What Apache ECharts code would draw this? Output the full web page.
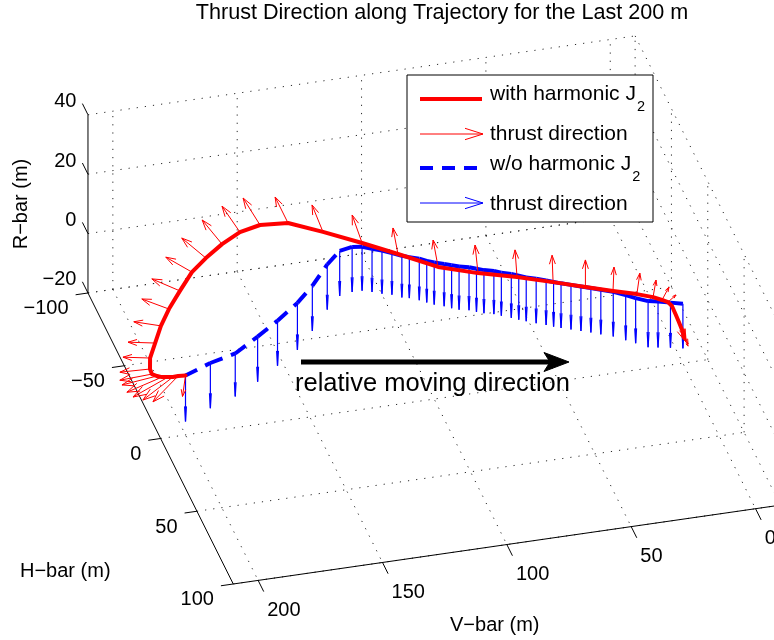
<!DOCTYPE html>
<html>
<head>
<meta charset="utf-8">
<script src="https://cdn.jsdelivr.net/npm/echarts@6/dist/echarts.min.js"></script>
<style>
  html, body { margin: 0; padding: 0; background: #ffffff; }
  #main { width: 774px; height: 640px; }
</style>
</head>
<body>
<div id="main"></div>
<script>
// ---- Axis limits and ticks (metres) ----
const vLimits = [-10, 210];
const hLimits = [-100, 100];
const rLimits = [-20, 40];
const vTicks = [0, 50, 100, 150, 200];
const hTicks = [-100, -50, 0, 50, 100];
const rTicks = [-20, 0, 20, 40];

// ---- Trajectory without harmonic J2 (V-bar, H-bar, R-bar) ----
const noJ2V = [200, 190, 180, 171, 163, 155, 149, 143, 138, 133,
               129, 125, 121, 117, 113, 110, 106, 103, 100, 96,
               93, 90, 86, 83, 80, 76, 73, 69, 66, 63,
               59, 55, 52, 49, 45, 41, 37, 33, 28, 23,
               19, 14, 10, 5, 0];
const noJ2H = [0, 0, 0, 0, 0, 0, 0, 0, 0, 0,
               0, 0, 0, 0, 0, 0, 0, 0, 0, 0,
               0, 0, 0, 0, 0, 0, 0, 0, 0, 0,
               0, 0, 0, 0, 0, 0, 0, 0, 0, 0,
               0, 0, 0, 0, 0];
const noJ2R = [0, 3.0, 5.0, 9.6, 14.0, 19.0, 24.0, 30.5, 34.5, 35.2,
               34.8, 33.6, 32.5, 31.2, 29.8, 29.0, 28.0, 26.9, 26.0, 25.0,
               24.2, 23.4, 22.7, 21.8, 21.0, 20.2, 19.3, 18.4, 17.4, 16.5,
               15.6, 14.5, 13.6, 12.8, 11.8, 10.8, 9.8, 8.7, 7.4, 5.7,
               4.2, 2.6, 2.0, 1.0, 0];
// thrust direction vectors (V, H, R components)
const noJ2ThrustV = [0, 0, 0, 0, 0, 0, 0, 0, 0, 0,
                     0, 0, 0, 0, 0, 0, 0, 0, 0, 0,
                     0, 0, 0, 0, 0, 0, 0, 0, 0, 0,
                     0, 0, 0, 0, 0, 0, 0, 0, 0, 0,
                     0, 0, 0, 0, 0];
const noJ2ThrustH = [0, 0, 0, 0, 0, 0, 0, 0, 0, 0,
                     0, 0, 0, 0, 0, 0, 0, 0, 0, 0,
                     0, 0, 0, 0, 0, 0, 0, 0, 0, 0,
                     0, 0, 0, 0, 0, 0, 0, 0, 0, 0,
                     0, 0, 0, 0, 0];
const noJ2ThrustR = [-15.5, -15.2, -14.5, -15.2, -15.2, -15.8, -15.2, -15.2, -15.2, -15.2,
                     -14.8, -14.5, -14.5, -14.0, -14.0, -13.8, -14.0, -14.0, -14.2, -14.2,
                     -14.5, -14.5, -14.5, -14.5, -14.5, -14.5, -14.5, -14.8, -14.8, -14.8,
                     -15.0, -15.0, -15.0, -15.0, -15.0, -15.0, -15.0, -15.0, -15.0, -15.2,
                     -15.2, -15.5, -15.5, -15.2, -15.0];

// ---- Trajectory with harmonic J2 ----
const j2V = [200, 201.8, 202.7, 203.5, 204.8, 205.6, 206.5, 206.1, 204.9, 201.7,
             198.2, 194.1, 188.8, 183.4, 177.2, 170.7, 163.8, 156.6, 146.5, 134.5,
             121.4, 109.9, 96.1, 81.5, 66.7, 52.2, 39.2, 28.1, 18.5, 12.0,
             8.4, 6.0, 4.4, 3.1, 2.2, 1.2, 0.7];
const j2H = [0, -4, -8, -12, -16, -20, -24, -28, -32, -36,
             -40, -43, -46, -48, -50, -50, -49, -46, -42, -35,
             -26, -16, -8, -3, 0, 0, 0, 0, 0, 0,
             0, 0, 0, 1, 2, 3, 4];
const j2R = [0, -1.9, -4.1, -6.0, -7.8, -9.3, -10.5, -10.8, -9.2, -6.5,
             -3.1, 0.6, 4.6, 9.3, 12.3, 16.2, 19.9, 22.9, 24.3, 23.3,
             22.4, 22.2, 20.1, 18.7, 17.1, 13.6, 10.4, 7.7, 5.5, 3.7,
             2.3, 1.3, -0.2, -2.9, -4.9, -7.2, -9.4];
const j2ThrustV = [1.2, 10.1, 12.1, 14.1, 14.1, 14.1, 12.9, 12.1, 10.9, 10.9,
                   10.9, 10.9, 11.3, 10.5, 9.7, 8.0, 7.2, 6.8, 5.2, 4.4,
                   4.0, 2.0, 2.0, 1.2, 0.8, 0.4, 0, -0.4, -1.2, -1.2,
                   -2.8, -3.2, -5.6, -3.6, -2.8, -2.4, -1.6];
const j2ThrustH = [0, 0, 0, 0, 0, 0, 0, 0, 0, 0,
                   0, 0, 0, 0, 0, 0, 0, 0, 0, 0,
                   0, 0, 0, 0, 0, 0, 0, 0, 0, 0,
                   0, 0, 0, 0, 0, 0, 0];
const j2ThrustR = [-6.9, -7.5, -6.3, -5.0, -3.4, -1.3, -0.5, 0.4, 1.6, 1.6,
                   2.7, 4.7, 5.4, 6.3, 7.9, 9.1, 9.6, 9.9, 9.4, 9.6,
                   9.9, 9.0, 9.3, 9.6, 9.2, 9.1, 9.1, 8.0, 6.9, 5.6,
                   4.0, 2.0, -12.8, -7.8, -6.4, -5.0, -3.0];

// ---- Orthographic view: screen offset of the origin and of one metre along V, H, R ----
const VIEW = { ox: 682.9, oy: 303.8, v: [-2.487, 0.3585], h: [0.7265, 1.455], r: [0, -2.97] };
function proj(V, H, R) {
  return [VIEW.ox + VIEW.v[0] * V + VIEW.h[0] * H + VIEW.r[0] * R,
          VIEW.oy + VIEW.v[1] * V + VIEW.h[1] * H + VIEW.r[1] * R];
}
function unit(a) { const l = Math.hypot(a[0], a[1]); return [a[0] / l, a[1] / l]; }

const FONT = '"Liberation Sans", Arial, Helvetica, sans-serif';
const TICK_LEN = 12.5;

function seg(a, b, style) {
  return { type: 'line', shape: { x1: a[0], y1: a[1], x2: b[0], y2: b[1] }, style: style };
}
function arrowShapes(b, t, color, lw, headHalf) {
  const dx = t[0] - b[0], dy = t[1] - b[1];
  const L = Math.hypot(dx, dy);
  if (L < 0.5) return [];
  const ux = dx / L, uy = dy / L, nx = -uy, ny = ux;
  const hl = 0.33 * L, hw = headHalf * L;
  const st = { stroke: color, lineWidth: lw, fill: null };
  return [
    seg(b, t, st),
    { type: 'polyline', shape: { points: [
        [t[0] - hl * ux + hw * nx, t[1] - hl * uy + hw * ny], t,
        [t[0] - hl * ux - hw * nx, t[1] - hl * uy - hw * ny]] }, style: st }
  ];
}

function customLayer(name, z, build) {
  return {
    type: 'custom', name: name, coordinateSystem: 'cartesian2d', data: [0], z: z,
    silent: true, clip: false, animation: false,
    renderItem: function (params, api) {
      const P = (V, H, R) => api.coord(proj(V, H, R));
      return { type: 'group', children: build(P) };
    }
  };
}

// dotted grid on the floor and the two back walls
function buildGrid(P) {
  const out = [];
  const st = { stroke: '#2a2a2a', lineWidth: 1, lineDash: [1.2, 7] };
  const [v0, v1] = vLimits, [h0, h1] = hLimits, [r0, r1] = rLimits;
  vTicks.forEach(v => out.push(seg(P(v, h0, r0), P(v, h1, r0), st)));
  hTicks.forEach(h => out.push(seg(P(v1, h, r0), P(v0, h, r0), st)));
  vTicks.forEach(v => out.push(seg(P(v, h0, r0), P(v, h0, r1), st)));
  rTicks.forEach(r => out.push(seg(P(v1, h0, r), P(v0, h0, r), st)));
  hTicks.forEach(h => out.push(seg(P(v0, h, r0), P(v0, h, r1), st)));
  rTicks.forEach(r => out.push(seg(P(v0, h0, r), P(v0, h1, r), st)));
  return out;
}

// axis lines, ticks and tick labels
function fmt(n) { return n < 0 ? '\u2212' + Math.abs(n) : String(n); }
function buildAxes(P) {
  const out = [];
  const st = { stroke: '#000', lineWidth: 1 };
  const [v0, v1] = vLimits, [h0, h1] = hLimits, [r0, r1] = rLimits;
  out.push(seg(P(v1, h1, r0), P(v0, h1, r0), st));
  out.push(seg(P(v1, h0, r0), P(v1, h1, r0), st));
  out.push(seg(P(v1, h0, r0), P(v1, h0, r1), st));
  const hDir = unit(VIEW.h), vDir = unit(VIEW.v);
  const txt = (x, y, s, align) => ({ type: 'text', x: x, y: y,
    style: { text: s, fill: '#000', font: '20px ' + FONT, align: align, verticalAlign: 'middle' } });
  vTicks.forEach(v => {
    const a = P(v, h1, r0), e = [a[0] + hDir[0] * TICK_LEN, a[1] + hDir[1] * TICK_LEN];
    out.push(seg(a, e, st));
    out.push(txt(e[0] + 3.5, e[1] + 19, fmt(v), 'left'));
  });
  hTicks.forEach(h => {
    const a = P(v1, h, r0), e = [a[0] + vDir[0] * TICK_LEN, a[1] + vDir[1] * TICK_LEN];
    out.push(seg(a, e, st));
    out.push(txt(e[0] - 7, e[1] + 14, fmt(h), 'right'));
  });
  rTicks.forEach(r => {
    const a = P(v1, h0, r), e = [a[0] - hDir[0] * TICK_LEN, a[1] - hDir[1] * TICK_LEN];
    out.push(seg(a, e, st));
    out.push(txt(e[0] - 6, e[1] - 2, fmt(r), 'right'));
  });
  return out;
}

// dashed path: each segment restarts its dash pattern
function buildDashedPath(Vs, Hs, Rs, color) {
  return function (P) {
    const out = [];
    for (let i = 0; i + 1 < Vs.length; i++) {
      out.push(seg(P(Vs[i], Hs[i], Rs[i]), P(Vs[i + 1], Hs[i + 1], Rs[i + 1]),
        { stroke: color, lineWidth: 4, lineDash: [13, 9], lineCap: 'butt' }));
    }
    return out;
  };
}
function buildSolidPath(Vs, Hs, Rs, color) {
  return function (P) {
    const pts = Vs.map((v, i) => P(v, Hs[i], Rs[i]));
    return [{ type: 'polyline', shape: { points: pts },
      style: { stroke: color, lineWidth: 4, fill: null, lineJoin: 'round', lineCap: 'round' } }];
  };
}
function buildQuiver(Vs, Hs, Rs, TV, TH, TR, color, lw, headHalf) {
  return function (P) {
    let out = [];
    Vs.forEach((v, i) => {
      const b = P(v, Hs[i], Rs[i]);
      const t = P(v + TV[i], Hs[i] + TH[i], Rs[i] + TR[i]);
      out = out.concat(arrowShapes(b, t, color, lw, headHalf));
    });
    return out;
  };
}

// text width helper for subscripts in the legend
const measureCtx = document.createElement('canvas').getContext('2d');
function textWidth(s, font) { measureCtx.font = font; return measureCtx.measureText(s).width; }

const RED = '#ff0000', BLUE = '#0000ff';
const legendFont = '21px ' + FONT;
const subFont = '14.5px ' + FONT;
const lx = 490;
const wJ2a = textWidth('with harmonic J', legendFont);
const wJ2b = textWidth('w/o harmonic J', legendFont);

function legendArrow(x1, x2, y, color) {
  const hl = 18, hw = 5.7;
  return [
    { type: 'line', shape: { x1: x1, y1: y, x2: x2, y2: y }, style: { stroke: color, lineWidth: 1 }, z: 101 },
    { type: 'polyline', shape: { points: [[x2 - hl, y - hw], [x2, y], [x2 - hl, y + hw]] },
      style: { stroke: color, lineWidth: 1, fill: null }, z: 101 }
  ];
}
function legendText(x, y, s, font) {
  return { type: 'text', x: x, y: y, z: 101,
    style: { text: s, fill: '#000', font: font, align: 'left', verticalAlign: 'middle' } };
}

const chart = echarts.init(document.getElementById('main'), null, { renderer: 'canvas' });
chart.setOption({
  animation: false,
  backgroundColor: '#ffffff',
  grid: { left: 0, right: 0, top: 0, bottom: 0 },
  xAxis: { type: 'value', min: 0, max: 774, show: false },
  yAxis: { type: 'value', min: 0, max: 640, inverse: true, show: false },
  series: [
    customLayer('grid', 1, buildGrid),
    customLayer('axes', 2, buildAxes),
    customLayer('thrust w/o J2', 3,
      buildQuiver(noJ2V, noJ2H, noJ2R, noJ2ThrustV, noJ2ThrustH, noJ2ThrustR, BLUE, 1.2, 0.02)),
    customLayer('w/o harmonic J2', 4, buildDashedPath(noJ2V, noJ2H, noJ2R, BLUE)),
    customLayer('with harmonic J2', 5, buildSolidPath(j2V, j2H, j2R, RED)),
    customLayer('thrust with J2', 6,
      buildQuiver(j2V, j2H, j2R, j2ThrustV, j2ThrustH, j2ThrustR, RED, 1, 0.11))
  ],
  graphic: [
    { type: 'text', x: 442, y: 13, z: 100,
      style: { text: 'Thrust Direction along Trajectory for the Last 200 m', fill: '#000',
               font: '21.6px ' + FONT, align: 'center', verticalAlign: 'middle' } },
    { type: 'text', x: 21, y: 204, rotation: Math.PI / 2, z: 100,
      style: { text: 'R\u2212bar (m)', fill: '#000', font: '20px ' + FONT, align: 'center', verticalAlign: 'middle' } },
    { type: 'text', x: 20, y: 571, z: 100,
      style: { text: 'H\u2212bar (m)', fill: '#000', font: '20px ' + FONT, align: 'left', verticalAlign: 'middle' } },
    { type: 'text', x: 450, y: 625, z: 100,
      style: { text: 'V\u2212bar (m)', fill: '#000', font: '20px ' + FONT, align: 'left', verticalAlign: 'middle' } },
    // relative moving direction annotation
    { type: 'line', z: 100, shape: { x1: 301, y1: 362, x2: 553, y2: 362 }, style: { stroke: '#000', lineWidth: 5 } },
    { type: 'polygon', z: 100, shape: { points: [[569, 362], [544, 352.5], [550, 362], [544, 371.5]] },
      style: { fill: '#000', stroke: '#000', lineWidth: 1 } },
    { type: 'text', x: 295, y: 384, z: 100,
      style: { text: 'relative moving direction', fill: '#000', font: '25.5px ' + FONT, align: 'left', verticalAlign: 'middle' } },
    // legend
    { type: 'rect', z: 100, shape: { x: 407, y: 75, width: 246, height: 147 },
      style: { fill: '#ffffff', stroke: '#000', lineWidth: 1 } },
    { type: 'line', z: 101, shape: { x1: 420, y1: 99, x2: 482, y2: 99 }, style: { stroke: RED, lineWidth: 4 } },
    legendText(lx, 94, 'with harmonic J', legendFont),
    legendText(lx + wJ2a + 1, 107, '2', subFont),
    ...legendArrow(420, 483, 134, RED),
    legendText(lx, 134, 'thrust direction', legendFont),
    { type: 'line', z: 101, shape: { x1: 420, y1: 168, x2: 482, y2: 168 },
      style: { stroke: BLUE, lineWidth: 4, lineDash: [13, 9] } },
    legendText(lx, 164, 'w/o harmonic J', legendFont),
    legendText(lx + wJ2b + 1, 177, '2', subFont),
    ...legendArrow(420, 483, 203, BLUE),
    legendText(lx, 204, 'thrust direction', legendFont)
  ]
});
</script>
</body>
</html>
